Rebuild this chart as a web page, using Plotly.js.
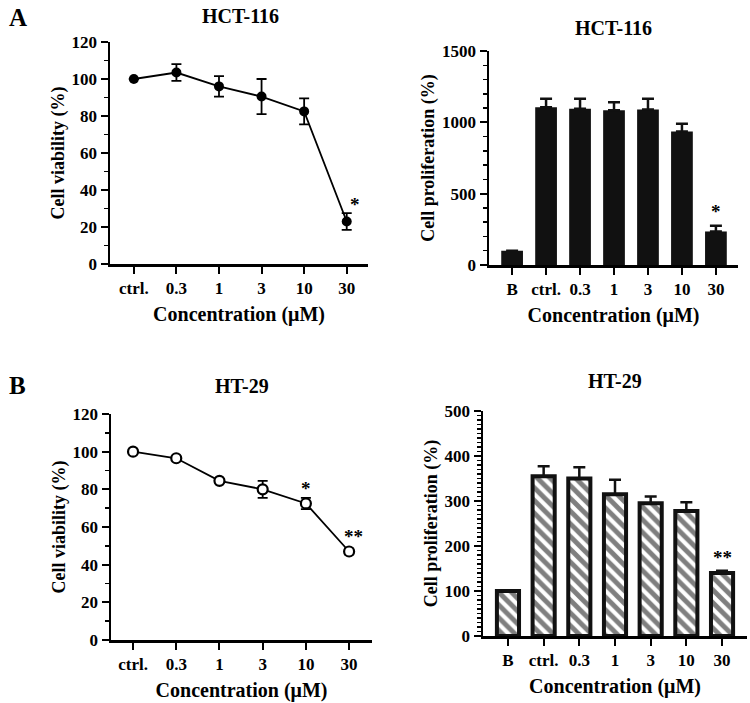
<!DOCTYPE html>
<html>
<head>
<meta charset="utf-8">
<script src="https://cdn.plot.ly/plotly-3.0.1.min.js"></script>
<style>
html,body{margin:0;padding:0;background:#fff;}
#chart{width:750px;height:703px;}
</style>
</head>
<body>
<div id="chart"></div>
<script>
// ---- data ----
const concLine = ["ctrl.", "0.3", "1", "3", "10", "30"];
const concBar = ["B", "ctrl.", "0.3", "1", "3", "10", "30"];

const hctViability = [100, 103.5, 96, 90.5, 82.5, 23];
const hctViabilityErr = [0, 4.5, 5.5, 9.5, 7, 4.5];
const hctProlif = [100, 1105, 1095, 1085, 1090, 935, 235];
const hctProlifErr = [0, 60, 70, 55, 75, 55, 40];

const htViability = [100, 96.5, 84.5, 80, 72.5, 47];
const htViabilityErr = [0, 0.8, 1, 4.5, 3, 1.5];
const htProlif = [100, 355, 350, 315, 295, 278, 140];
const htProlifErr = [0, 22, 25, 32, 15, 19, 5];

const titleA = "HCT-116";
const titleB = "HT-29";
const xTitle = "Concentration (μM)";
const yViab = "Cell viability (%)";
const yProl = "Cell proliferation (%)";

// ---- layout helpers ----
const W = 750, H = 703;
const FONT = "Liberation Serif, Times New Roman, serif";
const px = v => v / W;
const py = v => 1 - v / H;

function xAxis(domL, domR, range, cats, anchor) {
  return {
    domain: [px(domL), px(domR)], range: range, type: "category",
    categoryorder: "array", categoryarray: cats,
    showline: true, linewidth: 2.5, linecolor: "#000", mirror: false,
    ticks: "outside", ticklen: 7, tickwidth: 2, tickcolor: "#000",
    showgrid: false, zeroline: false, anchor: anchor,
    tickfont: {family: FONT, size: 17, color: "#000", weight: "bold"},
    title: {text: xTitle, font: {family: FONT, size: 20, color: "#000", weight: "bold"}, standoff: 10}
  };
}
function yAxis(top, bot, range, dtick, minor, anchor, title) {
  return {
    domain: [py(bot), py(top)], range: range, dtick: dtick, tick0: 0,
    showline: true, linewidth: 2.5, linecolor: "#000",
    ticks: "outside", ticklen: 7, tickwidth: 2, tickcolor: "#000",
    minor: {dtick: minor, ticks: "outside", ticklen: 4, tickwidth: 1.5, tickcolor: "#000"},
    showgrid: false, zeroline: false, anchor: anchor,
    tickfont: {family: FONT, size: 17, color: "#000", weight: "bold"},
    title: {text: title, font: {family: FONT, size: 18, color: "#000", weight: "bold"}, standoff: 3}
  };
}

const traces = [
  {
    type: "scatter", mode: "lines+markers", x: concLine, y: hctViability,
    xaxis: "x", yaxis: "y",
    line: {color: "#000", width: 1.8},
    marker: {color: "#000", size: 10, symbol: "circle"},
    error_y: {type: "data", array: hctViabilityErr, visible: true, color: "#000", thickness: 1.8, width: 5}
  },
  {
    type: "bar", x: concBar, y: hctProlif, xaxis: "x2", yaxis: "y2",
    width: 0.64,
    marker: {color: "#111", line: {color: "#111", width: 0}},
    error_y: {type: "data", array: hctProlifErr, arrayminus: concBar.map(() => 0), symmetric: false,
              visible: true, color: "#111", thickness: 2.5, width: 6}
  },
  {
    type: "scatter", mode: "lines+markers", x: concLine, y: htViability,
    xaxis: "x3", yaxis: "y3",
    line: {color: "#000", width: 1.8},
    marker: {color: "#fff", size: 10, symbol: "circle", line: {color: "#000", width: 2.2}},
    error_y: {type: "data", array: htViabilityErr, visible: true, color: "#000", thickness: 1.8, width: 5}
  },
  {
    type: "bar", x: concBar, y: htProlif, xaxis: "x4", yaxis: "y4",
    width: 0.62,
    marker: {color: "#fff", line: {color: "#111", width: 4},
             pattern: {shape: "\\", fgcolor: "#000", bgcolor: "#fff", size: 9, solidity: 0.55, fillmode: "overlay"}},
    error_y: {type: "data", array: htProlifErr, arrayminus: concBar.map(() => 0), symmetric: false,
              visible: true, color: "#111", thickness: 2.5, width: 6}
  }
];

function ann(text, x, y, size, xref, yref, extra) {
  return Object.assign({
    text: text, x: x, y: y, xref: xref || "paper", yref: yref || "paper",
    showarrow: false, xanchor: "center", yanchor: "middle",
    font: {family: FONT, size: size, color: "#000", weight: "bold"}
  }, extra || {});
}

const annotations = [
  ann("A", px(18), py(17), 25),
  ann("B", px(17), py(385), 25),
  ann(titleA, px(240), py(16), 20),
  ann(titleA, px(613), py(28), 20),
  ann(titleB, px(242), py(386), 20),
  ann(titleB, px(615), py(381), 20),
  ann("*", 5, 32.4, 19, "x", "y", {xshift: 8}),
  ann("*", 6, 378, 19, "x2", "y2"),
  ann("*", 4, 80.2, 19, "x3", "y3"),
  ann("**", 5, 55.2, 19, "x3", "y3", {xshift: 4}),
  ann("**", 6, 175, 19, "x4", "y4")
];

const layout = {
  width: W, height: H,
  margin: {l: 0, r: 0, t: 0, b: 0},
  paper_bgcolor: "#fff", plot_bgcolor: "#fff",
  showlegend: false,
  xaxis: xAxis(110, 368, [-0.56, 5.5], concLine, "y"),
  yaxis: yAxis(42, 264, [0, 120], 20, 10, "x", yViab),
  xaxis2: xAxis(489, 738, [-0.68, 6.65], concBar, "y2"),
  yaxis2: yAxis(51, 265, [0, 1500], 500, 100, "x2", yProl),
  xaxis3: xAxis(111, 372, [-0.51, 5.53], concLine, "y3"),
  yaxis3: yAxis(414, 640, [0, 120], 20, 10, "x3", yViab),
  xaxis4: xAxis(483, 747, [-0.70, 6.70], concBar, "y4"),
  yaxis4: yAxis(411, 636, [0, 500], 100, 10, "x4", yProl),
  annotations: annotations
};

Plotly.newPlot("chart", traces, layout, {staticPlot: true, displayModeBar: false});
</script>
</body>
</html>
